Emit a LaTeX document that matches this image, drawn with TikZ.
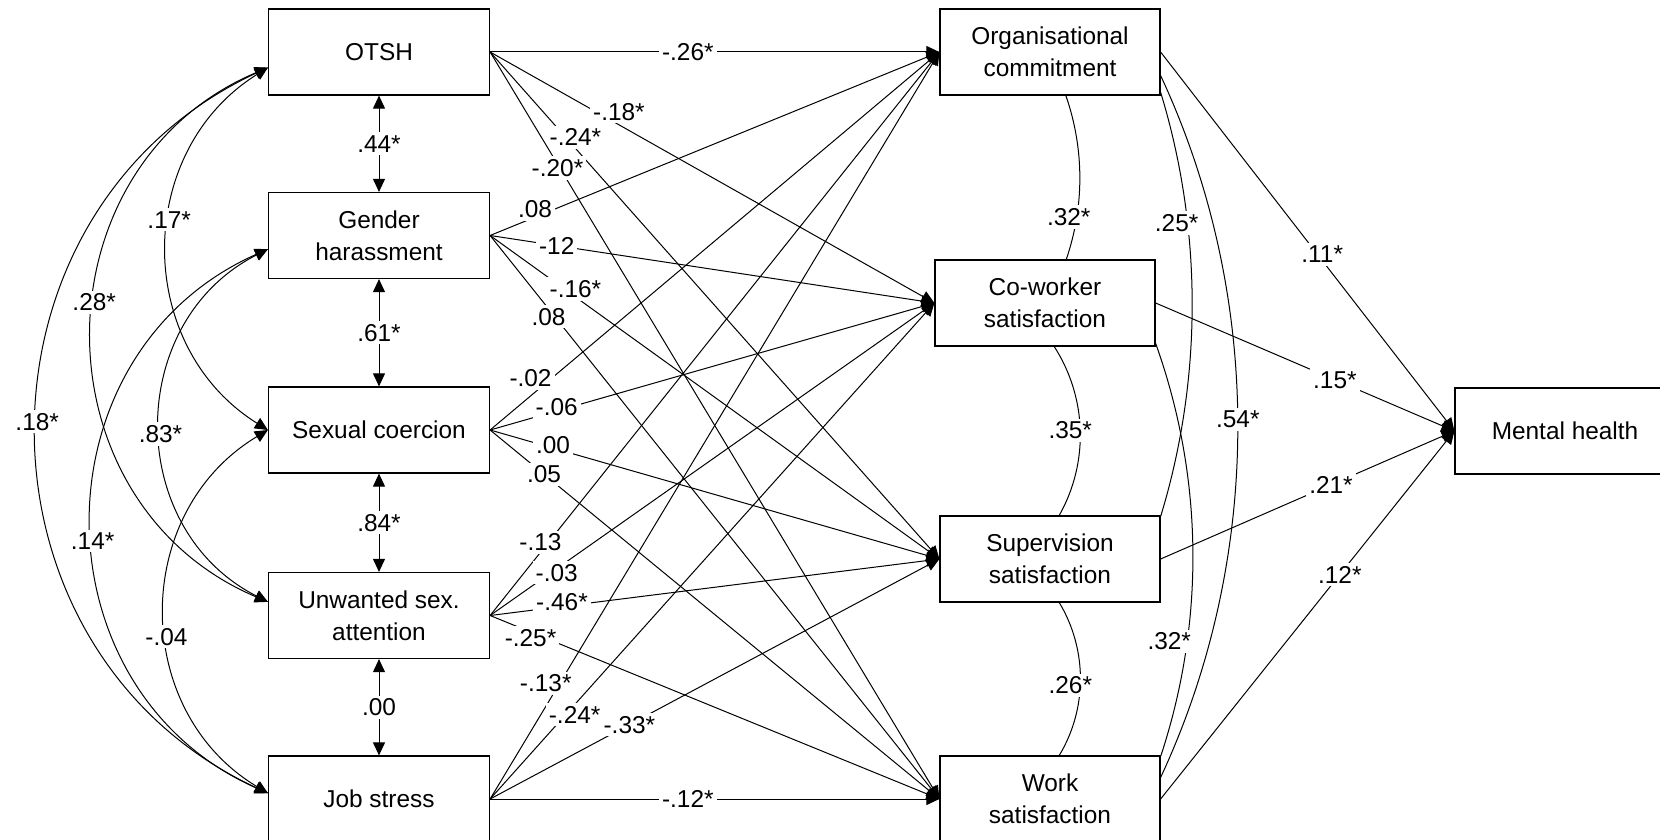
\documentclass[tikz,border=0pt]{standalone}
\usepackage{fontspec}
\setmainfont{Liberation Sans}
\usetikzlibrary{arrows.meta}

\begin{document}
\begin{tikzpicture}[x=0.5pt,y=-0.5pt,line width=0.5pt,
	box/.style={draw,line width=0.6pt,minimum width=110.5pt,minimum height=43pt,inner sep=0pt,align=center,font=\fontsize{12.2}{16.2}\selectfont},
	lbl/.style={fill=white,inner sep=1.5pt,font=\fontsize{12.2}{14}\selectfont},
	eff/.style={-{Triangle[length=6.5pt,width=6pt]}},
	cov/.style={{Triangle[length=6.5pt,width=6pt]}-{Triangle[length=6.5pt,width=6pt]}}]
	\useasboundingbox (0,0) rectangle (1660,840);
	\clip (0,0) rectangle (1660,840);

	\node[box] (otsh) at (379,52) {OTSH};
	\node[box] (gh) at (379,235.5) {Gender\\harassment};
	\node[box] (sc) at (379,430) {Sexual coercion};
	\node[box] (ua) at (379,615.5) {Unwanted sex.\\attention};
	\node[box] (js) at (379,799) {Job stress};

	\node[box,minimum width=110pt] (oc) at (1050,52) {Organisational\\commitment};
	\node[box,minimum width=110pt] (cw) at (1045,303) {Co-worker\\satisfaction};
	\node[box,minimum width=110pt] (ss) at (1050,559) {Supervision\\satisfaction};
	\node[box,minimum width=110pt] (ws) at (1050,799) {Work\\satisfaction};
	\node[box,minimum width=110pt] (mh) at (1565,431) {Mental health};

	\draw[cov] (otsh.south) -- node[lbl] {.44*} (gh.north);
	\draw[cov] (gh.south) -- node[lbl] {.61*} (sc.north);
	\draw[cov] (sc.south) -- node[lbl] {.84*} (ua.north);
	\draw[cov] (ua.south) -- node[lbl] {.00} (js.north);

	\draw[cov] (otsh.188) to[bend right=58,looseness=1.12] node[lbl,pos=.43] {.17*} (sc.180);
	\draw[cov] (otsh.188) to[bend right=67,looseness=1.22] node[lbl,pos=.45] {.28*} (ua.173);
	\draw[cov] (otsh.188) to[bend right=65,looseness=1.2] node[lbl,pos=.49] {.18*} (js.177);
	\draw[cov] (gh.187) to[bend right=63,looseness=1.17] node[lbl,pos=.52] {.83*} (ua.173);
	\draw[cov] (gh.187) to[bend right=66,looseness=1.21] node[lbl,pos=.53] {.14*} (js.177);
	\draw[cov] (sc.180) to[bend right=59,looseness=1.13] node[lbl,pos=.56] {-.04} (js.177);

	\draw[eff] (otsh.east) -- node[lbl,pos=.44] {-.26*} (oc.west);
	\draw[eff] (otsh.east) -- node[lbl,pos=.29,yshift=6.5pt] {-.18*} (cw.west);
	\draw[eff] (otsh.east) -- node[lbl,pos=.19,yshift=5.5pt] {-.24*} (ss.west);
	\draw[eff] (otsh.east) -- node[lbl,pos=.15,yshift=-2pt] {-.20*} (ws.west);

	\draw[eff] (gh.east) -- node[lbl,pos=.1,yshift=4pt] {.08} (oc.west);
	\draw[eff] (gh.east) -- node[lbl,pos=.15] {-12} (cw.west);
	\draw[eff] (gh.east) -- node[lbl,pos=.19,yshift=4pt] {-.16*} (ss.west);
	\draw[eff] (gh.east) -- node[lbl,pos=.13,yshift=-4pt] {.08} (ws.west);

	\draw[eff] (sc.east) -- node[lbl,pos=.09,yshift=9pt] {-.02} (oc.west);
	\draw[eff] (sc.east) -- node[lbl,pos=.15,yshift=2pt] {-.06} (cw.west);
	\draw[eff] (sc.east) -- node[lbl,pos=.14,yshift=1.5pt] {.00} (ss.west);
	\draw[eff] (sc.east) -- node[lbl,pos=.12] {.05} (ws.west);

	\draw[eff] (ua.east) -- node[lbl,pos=.13,xshift=-4pt] {-.13} (oc.west);
	\draw[eff] (ua.east) -- node[lbl,pos=.15,yshift=-2pt] {-.03} (cw.west);
	\draw[eff] (ua.east) -- node[lbl,pos=.16,yshift=2pt] {-.46*} (ss.west);
	\draw[eff] (ua.east) -- node[lbl,pos=.09,yshift=-3pt] {-.25*} (ws.west);

	\draw[eff] (js.east) -- node[lbl,pos=.155,xshift=-7pt] {-.13*} (oc.west);
	\draw[eff] (js.east) -- node[lbl,pos=.17,xshift=4.5pt] {-.24*} (cw.west);
	\draw[eff] (js.east) -- node[lbl,pos=.31] {-.33*} (ss.west);
	\draw[eff] (js.east) -- node[lbl,pos=.44] {-.12*} (ws.west);

	\draw (oc.-70) to[bend left=19,looseness=.88] node[lbl,pos=.74,xshift=-4pt] {.32*} (cw.64);
	\draw (cw.-78) to[bend left=31,looseness=.92] node[lbl,pos=.5,xshift=-5pt] {.35*} (ss.78);
	\draw (ss.-78) to[bend left=31,looseness=.92] node[lbl,pos=.54,xshift=-5pt] {.26*} (ws.78);
	\draw (oc.-20) to[bend left=17,looseness=.87] node[lbl,pos=.31,xshift=-5.5pt] {.25*} (ss.21);
	\draw (oc.-12) to[bend left=25,looseness=.89] node[lbl,pos=.49] {.54*} (ws.11);
	\draw (cw.-20) to[bend left=19,looseness=.88] node[lbl,pos=.72,xshift=-9pt] {.32*} (ws.21);

	\draw[eff] (oc.east) -- node[lbl,pos=.55,yshift=3pt] {.11*} (mh.west);
	\draw[eff] (cw.east) -- node[lbl,pos=.6] {.15*} (mh.west);
	\draw[eff] (ss.east) -- node[lbl,pos=.58] {.21*} (mh.west);
	\draw[eff] (ws.east) -- node[lbl,pos=.61] {.12*} (mh.west);

\end{tikzpicture}
\end{document}
